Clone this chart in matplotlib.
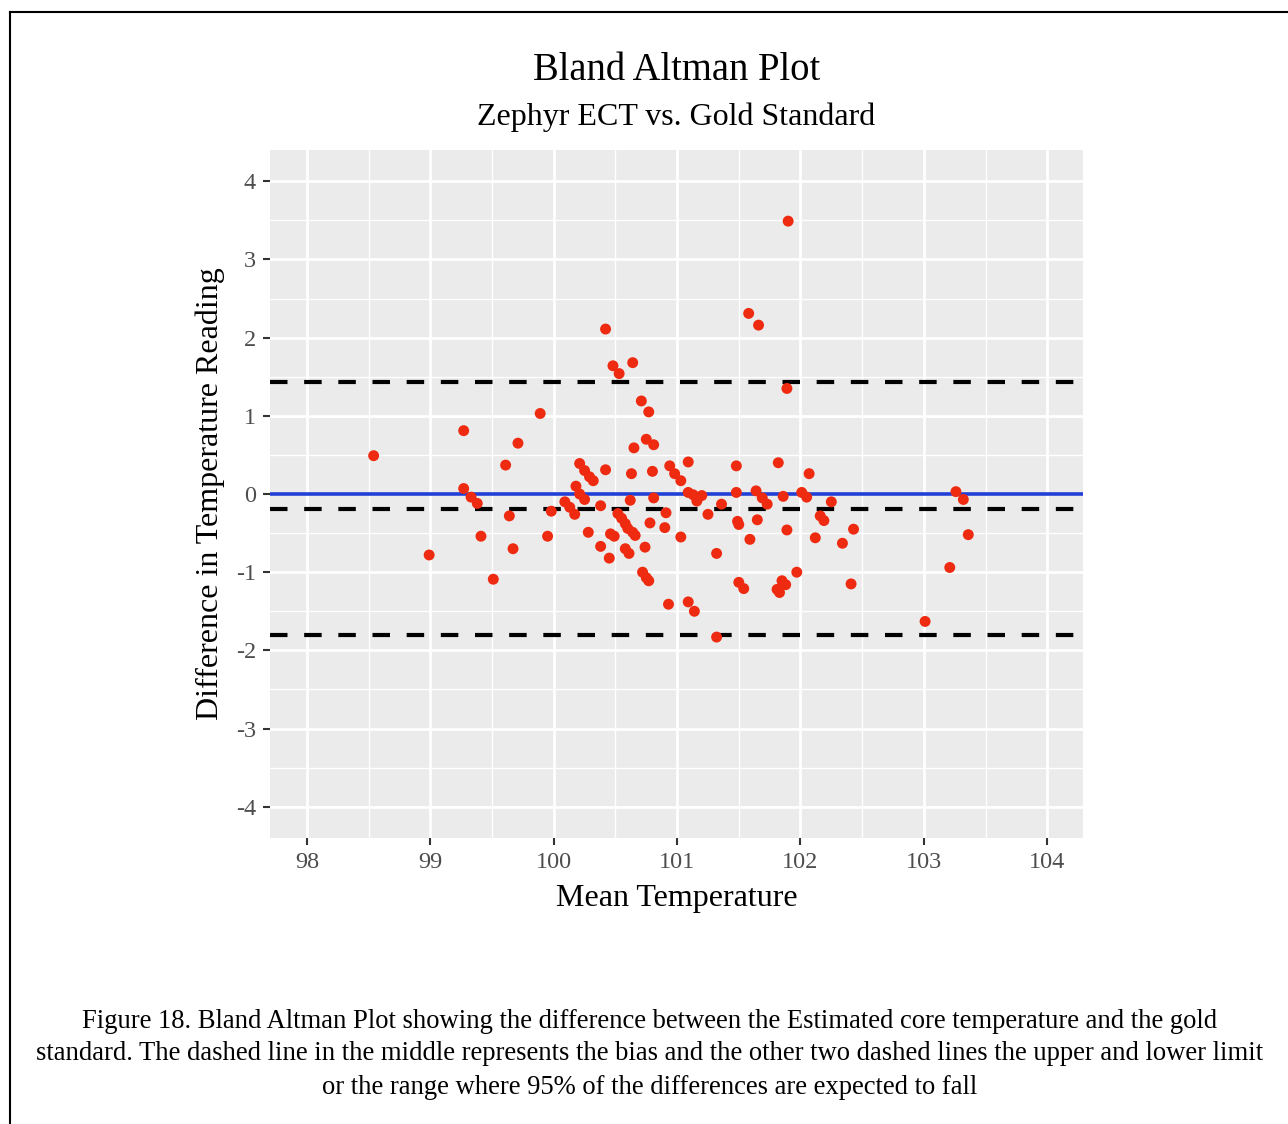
"""
Bland Altman plot - Zephyr ECT vs. Gold Standard
"""

import matplotlib
matplotlib.use('Agg')
import matplotlib.pyplot as plt
from matplotlib.lines import Line2D

plt.rcParams['font.family'] = ['Liberation Serif', 'DejaVu Serif']
plt.rcParams['axes.unicode_minus'] = False

# Ortalama sıcaklık (x) ve fark (y)
mean_temp = [
    98.54, 98.99, 99.27, 99.27, 99.33, 99.38, 99.41, 99.51, 99.61, 99.64,
    99.67, 99.71, 99.89, 99.98, 99.95, 100.09, 100.13, 100.17, 100.18, 100.21,
    100.25, 100.29, 100.32, 100.21, 100.25, 100.28, 100.38, 100.38, 100.42, 100.42,
    100.45, 100.46, 100.49, 100.48, 100.53, 100.52, 100.55, 100.58, 100.60, 100.64,
    100.66, 100.58, 100.61, 100.62, 100.63, 100.64, 100.65, 100.71, 100.72, 100.75,
    100.77, 100.75, 100.74, 100.78, 100.77, 100.80, 100.81, 100.81, 100.91, 100.90,
    100.93, 100.94, 100.98, 101.03, 101.03, 101.09, 101.09, 101.13, 101.16, 101.20,
    101.09, 101.14, 101.25, 101.32, 101.32, 101.36, 101.48, 101.48, 101.49, 101.50,
    101.50, 101.54, 101.58, 101.66, 101.59, 101.64, 101.65, 101.69, 101.73, 101.82,
    101.81, 101.83, 101.85, 101.88, 101.86, 101.89, 101.89, 101.90, 101.97, 102.01,
    102.05, 102.07, 102.12, 102.16, 102.19, 102.25, 102.34, 102.41, 102.43, 103.01,
    103.21, 103.26, 103.32, 103.36,
]
diff_temp = [
    0.49, -0.78, 0.81, 0.07, -0.04, -0.12, -0.54, -1.09, 0.37, -0.28,
    -0.70, 0.65, 1.03, -0.22, -0.54, -0.10, -0.17, -0.26, 0.10, 0.39,
    0.30, 0.22, 0.17, 0.00, -0.07, -0.49, -0.15, -0.67, 0.31, 2.11,
    -0.82, -0.51, -0.54, 1.64, 1.54, -0.25, -0.31, -0.38, -0.44, -0.49,
    -0.53, -0.70, -0.76, -0.08, 0.26, 1.68, 0.59, 1.19, -1.00, -1.07,
    -1.11, 0.70, -0.68, -0.37, 1.05, 0.29, 0.63, -0.05, -0.24, -0.43,
    -1.41, 0.36, 0.26, 0.17, -0.55, 0.41, 0.02, -0.01, -0.09, -0.02,
    -1.38, -1.50, -0.26, -0.76, -1.83, -0.13, 0.36, 0.02, -0.35, -0.39,
    -1.13, -1.21, 2.31, 2.16, -0.58, 0.04, -0.33, -0.05, -0.13, 0.40,
    -1.22, -1.26, -1.11, -1.16, -0.03, -0.46, 1.35, 3.49, -1.00, 0.02,
    -0.04, 0.26, -0.56, -0.28, -0.34, -0.10, -0.63, -1.15, -0.45, -1.63,
    -0.94, 0.03, -0.07, -0.52,
]

bias = -0.19
upper_loa = 1.43
lower_loa = -1.80

x_ticks = [98, 99, 100, 101, 102, 103, 104]
y_ticks = [-4, -3, -2, -1, 0, 1, 2, 3, 4]

caption = [
    "Figure 18. Bland Altman Plot showing the difference between the Estimated core temperature and the gold",
    "standard. The dashed line in the middle represents the bias and the other two dashed lines the upper and lower limit",
    "or the range where 95% of the differences are expected to fall",
]

fig = plt.figure(figsize=(12.88, 11.24), dpi=100)
ax = fig.add_axes([270 / 1288, 1 - 838 / 1124, (1083 - 270) / 1288, (838 - 150) / 1124])

# ggplot tarzı panel
ax.set_facecolor('#EBEBEB')
for s in ax.spines.values():
    s.set_visible(False)
ax.set_xticks(x_ticks)
ax.set_yticks(y_ticks)
ax.set_xticks([x + 0.5 for x in x_ticks[:-1]] + [97.5], minor=True)
ax.set_yticks([y + 0.5 for y in y_ticks[:-1]], minor=True)
ax.grid(True, which='major', color='white', linewidth=2.0)
ax.grid(True, which='minor', color='white', linewidth=1.0)
ax.set_axisbelow(True)
ax.tick_params(which='minor', length=0)
ax.tick_params(which='major', length=5, width=1.5, color='#333333',
               labelcolor='#4D4D4D', labelsize=17.5, pad=5)
ax.set_xlim(97.70, 104.29)
ax.set_ylim(-4.40, 4.40)

ax.axhline(0, color='#1F3FD6', linewidth=2.6, zorder=2)
for yv in [upper_loa, bias, lower_loa]:
    ax.axhline(yv, color='black', linewidth=3.0, linestyle=(0, (4.2, 4.0)), zorder=2)

ax.scatter(mean_temp, diff_temp, s=62, color='#EE2A10', edgecolors='none', zorder=3)

ax.set_xlabel('Mean Temperature', fontsize=23, labelpad=8)
ax.set_ylabel('Difference in Temperature Reading', fontsize=23, labelpad=8)

# Başlıklar
cx = (270 + 1083) / 2 / 1288
fig.text(cx, 1 - 70 / 1124, 'Bland Altman Plot', ha='center', va='center', fontsize=27.8)
fig.text(cx, 1 - 117 / 1124, 'Zephyr ECT vs. Gold Standard', ha='center', va='center', fontsize=23)

# Alt yazı
for i, line in enumerate(caption):
    fig.text(650 / 1288, 1 - (1021 + 33 * i) / 1124, line, ha='center', va='center', fontsize=19.2)

# Çerçeve
fig.add_artist(Line2D([10 / 1288, 10 / 1288], [0, 1 - 12 / 1124], color='black', linewidth=1.5,
                      transform=fig.transFigure))
fig.add_artist(Line2D([10 / 1288, 1], [1 - 12 / 1124, 1 - 12 / 1124], color='black', linewidth=1.5,
                      transform=fig.transFigure))

fig.savefig('out.png', dpi=100)
